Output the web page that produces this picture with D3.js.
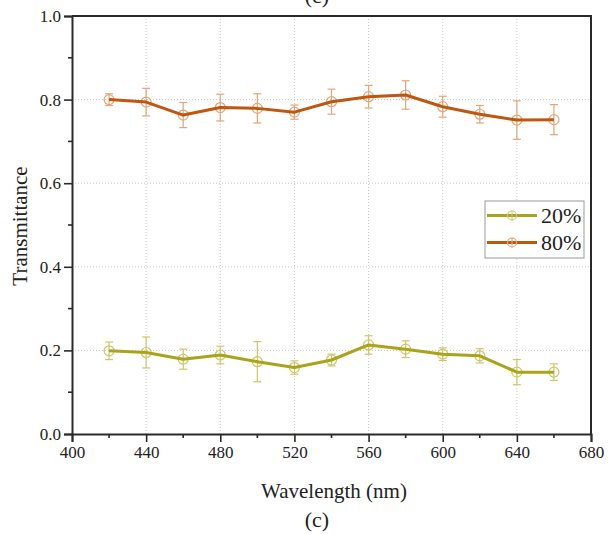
<!DOCTYPE html>
<html><head><meta charset="utf-8">
<script src="https://cdn.jsdelivr.net/npm/d3@7"></script>
<style>body{margin:0;background:#fff}svg{display:block}svg text{font-family:"Liberation Serif","Times New Roman",Times,serif !important;fill:#222}</style>
</head><body><svg id="c" width="609" height="534"></svg>
<script>
const wavelengths = [420,440,460,480,500,520,540,560,580,600,620,640,660];
const t20 = [0.199,0.195,0.179,0.189,0.173,0.159,0.177,0.213,0.203,0.191,0.187,0.148,0.148];
const e20 = [0.021,0.037,0.024,0.021,0.048,0.016,0.014,0.022,0.020,0.015,0.017,0.030,0.020];
const t80 = [0.800,0.794,0.763,0.781,0.779,0.770,0.795,0.807,0.811,0.783,0.765,0.751,0.752];
const e80 = [0.014,0.033,0.030,0.032,0.035,0.017,0.030,0.027,0.034,0.025,0.021,0.046,0.036];
const xTicks = [400,440,480,520,560,600,640,680];
const yTicks = [0.0,0.2,0.4,0.6,0.8,1.0];
const seriesNames = ["20%","80%"];

const svg = d3.select("#c");
const L=72, R=591, T=16, B=434;
const x = d3.scaleLinear().domain([400,680]).range([L,R]);
const y = d3.scaleLinear().domain([0,1]).range([B,T]);

// grid
const g = svg.append("g");
g.selectAll(".gx").data(xTicks.slice(1,-1)).join("line")
 .attr("x1",d=>x(d)).attr("x2",d=>x(d)).attr("y1",T).attr("y2",B)
 .attr("stroke","#c8c8c8").attr("stroke-width",1).attr("stroke-dasharray","1,2");
g.selectAll(".gy").data(yTicks.slice(1,-1)).join("line")
 .attr("y1",d=>y(d)).attr("y2",d=>y(d)).attr("x1",L).attr("x2",R)
 .attr("stroke","#c8c8c8").attr("stroke-width",1).attr("stroke-dasharray","1,2");

const series = [
 {name:seriesNames[0], v:t20, e:e20, line:"#aba318", light:"#cdc66c"},
 {name:seriesNames[1], v:t80, e:e80, line:"#c0570f", light:"#e3a57a"}
];
series.forEach(s=>{
  const pts = wavelengths.map((w,i)=>({w, v:s.v[i], e:s.e[i]}));
  const eg = svg.append("g").attr("stroke",s.light).attr("stroke-width",1.2).attr("fill","none");
  pts.forEach(p=>{
    eg.append("line").attr("x1",x(p.w)).attr("x2",x(p.w)).attr("y1",y(p.v-p.e)).attr("y2",y(p.v+p.e));
    eg.append("line").attr("x1",x(p.w)-4).attr("x2",x(p.w)+4).attr("y1",y(p.v-p.e)).attr("y2",y(p.v-p.e));
    eg.append("line").attr("x1",x(p.w)-4).attr("x2",x(p.w)+4).attr("y1",y(p.v+p.e)).attr("y2",y(p.v+p.e));
    eg.append("circle").attr("cx",x(p.w)).attr("cy",y(p.v)).attr("r",5);
  });
  svg.append("path").datum(pts)
   .attr("d",d3.line().x(d=>x(d.w)).y(d=>y(d.v)))
   .attr("fill","none").attr("stroke",s.line).attr("stroke-width",3).attr("stroke-linejoin","round");
});

// axes
const xa = svg.append("g").attr("transform",`translate(0,${B})`)
 .call(d3.axisBottom(x).tickValues(xTicks).tickFormat(d3.format("d")).tickSize(8).tickPadding(4));
const ya = svg.append("g").attr("transform",`translate(${L},0)`)
 .call(d3.axisLeft(y).tickValues(yTicks).tickFormat(d3.format(".1f")).tickSize(8).tickPadding(3));
[xa,ya].forEach(a=>{
  a.attr("font-family",null);
  a.select(".domain").attr("stroke","#2a2a2a").attr("stroke-width",2);
  a.selectAll(".tick line").attr("stroke","#2a2a2a").attr("stroke-width",1.6);
  a.selectAll(".tick text").attr("font-size",17).attr("fill","#222");
});
// minor ticks
svg.append("g").selectAll("line").data(d3.range(420,680,40)).join("line")
 .attr("x1",d=>x(d)).attr("x2",d=>x(d)).attr("y1",B).attr("y2",B+4).attr("stroke","#2a2a2a").attr("stroke-width",1.6);
svg.append("g").selectAll("line").data([0.1,0.3,0.5,0.7,0.9]).join("line")
 .attr("y1",d=>y(d)).attr("y2",d=>y(d)).attr("x1",L-4).attr("x2",L).attr("stroke","#2a2a2a").attr("stroke-width",1.6);
// top & right border
svg.append("path").attr("d",`M${L},${T}H${R}V${B}`).attr("fill","none").attr("stroke","#2a2a2a").attr("stroke-width",2);

// titles
svg.append("text").attr("x",334).attr("y",498).attr("text-anchor","middle").attr("font-size",21).text("Wavelength (nm)");
svg.append("text").attr("transform","translate(27,226) rotate(-90)").attr("text-anchor","middle").attr("font-size",21).text("Transmittance");
svg.append("text").attr("x",317).attr("y",527).attr("text-anchor","middle").attr("font-size",22).text("(c)");
svg.append("text").attr("x",317).attr("y",3).attr("text-anchor","middle").attr("font-size",22).text("(c)");

// legend
const lg = svg.append("g");
lg.append("rect").attr("x",485).attr("y",201).attr("width",99).attr("height",57)
 .attr("fill","#fff").attr("stroke","#999").attr("stroke-width",1);
series.forEach((s,i)=>{
  const yy = 215.5 + i*27;
  lg.append("line").attr("x1",487).attr("x2",537).attr("y1",yy).attr("y2",yy).attr("stroke",s.line).attr("stroke-width",3);
  lg.append("circle").attr("cx",512).attr("cy",yy).attr("r",4.5).attr("fill","none").attr("stroke",s.light).attr("stroke-width",1.2);
  lg.append("line").attr("x1",512).attr("x2",512).attr("y1",yy-5).attr("y2",yy+5).attr("stroke",s.light).attr("stroke-width",1);
  lg.append("text").attr("x",541).attr("y",yy+7.5).attr("font-size",22).text(s.name);
});
</script></body></html>
